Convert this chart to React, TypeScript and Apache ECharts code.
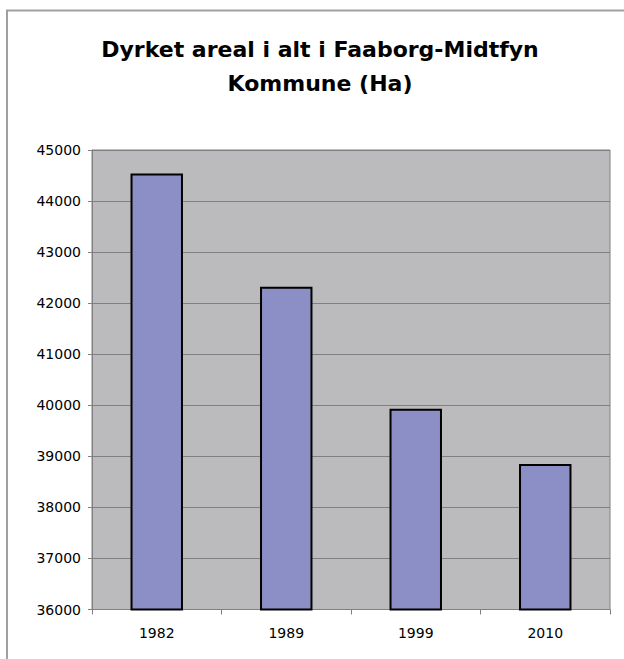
import React, { useEffect, useRef } from "react";
import * as echarts from "echarts";

const categories = ["1982", "1989", "1999", "2010"];
const values = [44540, 42320, 39930, 38850];
const yMin = 36000;
const yMax = 45000;
const yStep = 1000;
const titleText = "Dyrket areal i alt i Faaborg-Midtfyn\nKommune (Ha)";

const FONT = "DejaVu Sans, Liberation Sans, Arial, sans-serif";

export default function App() {
  const ref = useRef<HTMLDivElement>(null);
  useEffect(() => {
    if (!ref.current) return;
    const chart = echarts.init(ref.current, null, { renderer: "svg" });
    chart.setOption({
      animation: false,
      backgroundColor: "#ffffff",
      title: {
        text: titleText,
        left: 315,
        top: 27,
        textAlign: "center",
        textStyle: {
          fontFamily: FONT,
          fontSize: 22,
          fontWeight: "bold",
          color: "#000",
          lineHeight: 34,
        },
      },
      graphic: [
        {
          type: "rect",
          shape: { x: 7, y: 10.5, width: 700, height: 700 },
          style: { fill: "none", stroke: "#a0a0a0", lineWidth: 2 },
          silent: true,
        },
      ],
      grid: {
        left: 92,
        right: 14,
        top: 150,
        bottom: 49.5,
        show: true,
        backgroundColor: "#bbbbbe",
        borderColor: "#808080",
        borderWidth: 1,
      },
      xAxis: {
        type: "category",
        data: categories,
        axisLine: { show: true, lineStyle: { color: "#808080", width: 1 } },
        axisTick: { show: true, length: 5, lineStyle: { color: "#808080" } },
        axisLabel: {
          margin: 16,
          fontFamily: FONT,
          fontSize: 14,
          color: "#000",
        },
      },
      yAxis: {
        type: "value",
        min: yMin,
        max: yMax,
        interval: yStep,
        axisLine: { show: true, lineStyle: { color: "#808080", width: 1 } },
        axisTick: { show: true, length: 4, lineStyle: { color: "#808080" } },
        splitLine: { show: true, lineStyle: { color: "#808080", width: 1 } },
        axisLabel: {
          margin: 11,
          fontFamily: FONT,
          fontSize: 14,
          color: "#000",
          formatter: (v: number) => String(v),
        },
      },
      series: [
        {
          type: "bar",
          data: values,
          barWidth: "40.5%",
          itemStyle: { color: "#8c8fc6", borderColor: "#000", borderWidth: 2 },
        },
      ],
    });
    return () => chart.dispose();
  }, []);
  return (
    <div
      ref={ref}
      style={{ position: "fixed", left: 0, top: 0, width: 624, height: 659 }}
    />
  );
}
